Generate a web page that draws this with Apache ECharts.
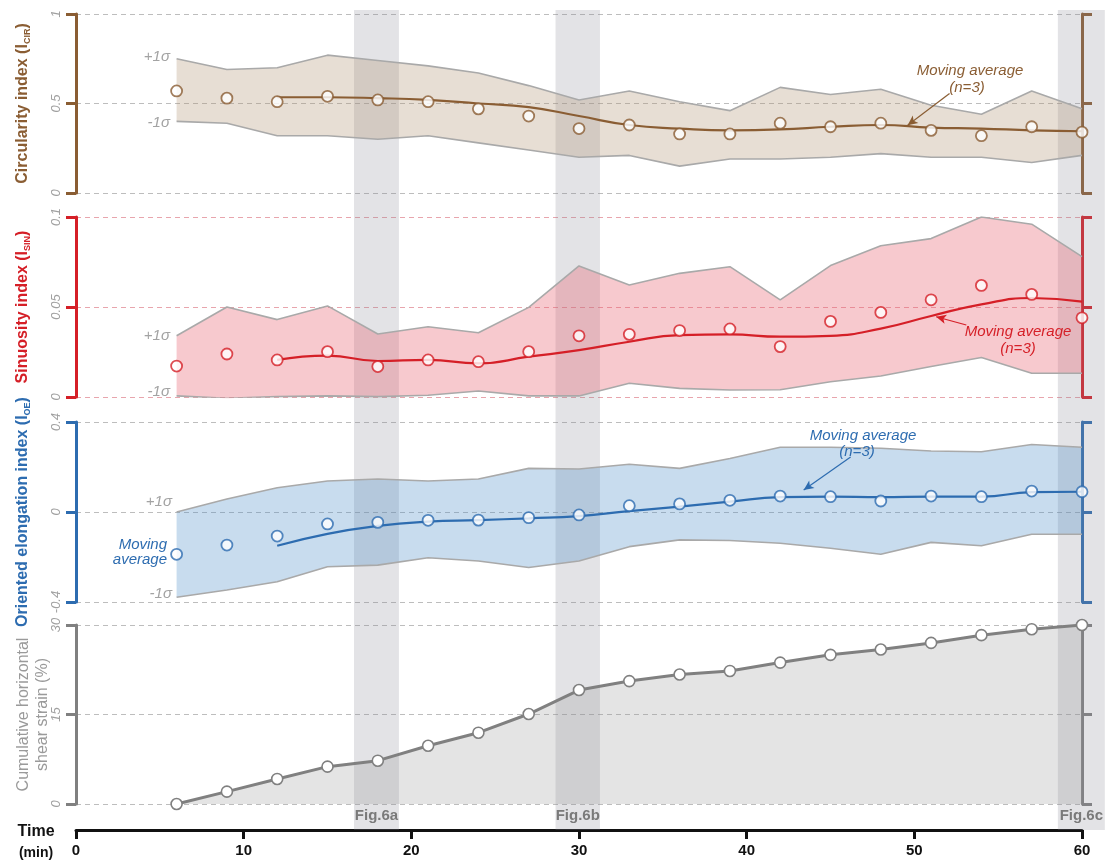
<!DOCTYPE html>
<html>
<head>
<meta charset="utf-8">
<script src="https://cdn.jsdelivr.net/npm/echarts@6/dist/echarts.min.js"></script>
<style>
  html, body { margin: 0; padding: 0; background: #fff; }
  #main { width: 1109px; height: 861px; }
</style>
</head>
<body>
<div id="main"></div>
<script>
// sampling times (min)
var times = [6, 9, 12, 15, 18, 21, 24, 27, 30, 33, 36, 39, 42, 45, 48, 51, 54, 57, 60];
var maTimes = [12, 15, 18, 21, 24, 27, 30, 33, 36, 39, 42, 45, 48, 51, 54, 57, 60];

// circularity index
var cirMean  = [0.57, 0.53, 0.51, 0.54, 0.52, 0.51, 0.47, 0.43, 0.36, 0.38, 0.33, 0.33, 0.39, 0.37, 0.39, 0.35, 0.32, 0.37, 0.34];
var cirUpper = [0.75, 0.69, 0.70, 0.77, 0.74, 0.71, 0.67, 0.60, 0.52, 0.57, 0.51, 0.46, 0.59, 0.55, 0.58, 0.49, 0.44, 0.57, 0.47];
var cirLower = [0.40, 0.39, 0.32, 0.32, 0.30, 0.32, 0.28, 0.24, 0.20, 0.21, 0.15, 0.19, 0.19, 0.20, 0.22, 0.20, 0.20, 0.17, 0.21];
var cirMA    = [0.535, 0.535, 0.53, 0.52, 0.50, 0.48, 0.43, 0.38, 0.36, 0.35, 0.355, 0.37, 0.38, 0.365, 0.36, 0.35, 0.345];

// sinuosity index
var sinMean  = [0.0172, 0.0239, 0.0206, 0.0252, 0.0169, 0.0206, 0.0196, 0.0252, 0.034, 0.0348, 0.0369, 0.0378, 0.028, 0.042, 0.047, 0.054, 0.062, 0.057, 0.044];
var sinUpper = [0.034, 0.050, 0.043, 0.0506, 0.035, 0.039, 0.0357, 0.0498, 0.0728, 0.0622, 0.0687, 0.0724, 0.054, 0.073, 0.084, 0.088, 0.100, 0.096, 0.078];
var sinLower = [0.0006, -0.0007, 0.0002, 0.0006, 0.0002, 0.001, 0.0033, 0.0006, 0.0006, 0.0076, 0.0048, 0.0039, 0.004, 0.0085, 0.0117, 0.0169, 0.0219, 0.0132, 0.0132];
var sinMA    = [0.0206, 0.023, 0.020, 0.0206, 0.0187, 0.0224, 0.026, 0.0307, 0.0344, 0.0348, 0.0335, 0.034, 0.038, 0.045, 0.0515, 0.055, 0.053];

// oriented elongation index
var oeMean  = [-0.188, -0.147, -0.107, -0.053, -0.046, -0.037, -0.036, -0.025, -0.013, 0.028, 0.036, 0.052, 0.071, 0.068, 0.049, 0.071, 0.068, 0.093, 0.09];
var oeUpper = [0.0, 0.058, 0.108, 0.138, 0.147, 0.138, 0.147, 0.194, 0.191, 0.212, 0.194, 0.238, 0.288, 0.288, 0.283, 0.271, 0.268, 0.30, 0.288];
var oeLower = [-0.379, -0.347, -0.31, -0.243, -0.236, -0.203, -0.218, -0.247, -0.218, -0.154, -0.124, -0.127, -0.139, -0.161, -0.188, -0.135, -0.15, -0.099, -0.099];
var oeMA    = [-0.15, -0.097, -0.062, -0.043, -0.036, -0.028, -0.018, 0.004, 0.024, 0.046, 0.066, 0.068, 0.066, 0.068, 0.068, 0.088, 0.09];

// cumulative horizontal shear strain (%)
var strain = [0, 2.07, 4.2, 6.26, 7.26, 9.77, 11.95, 15.08, 19.1, 20.6, 21.7, 22.3, 23.7, 25.0, 25.9, 27.0, 28.3, 29.3, 30.0];

// snapshot windows
var figBands = [
  { name: 'Fig.6a', from: 16.58, to: 19.26 },
  { name: 'Fig.6b', from: 28.6, to: 31.25 },
  { name: 'Fig.6c', from: 58.56, to: 61.36 }
];

var BROWN = '#8a5d33', RED = '#d51f27', BLUE = '#2d6cb0', GREY = '#808080';
var FONT = '"Liberation Sans Narrow", "Liberation Sans", Arial, sans-serif';

function zip(xs, ys) {
  return xs.map(function (x, i) { return [x, ys[i]]; });
}

var dom = document.getElementById('main');
var myChart = echarts.init(dom, null, { renderer: 'canvas' });

function grid(top, height, right) {
  return { left: 76, right: right, top: top, height: height, containLabel: false, outerBoundsMode: 'none' };
}
var grids = [
  grid(14, 179, 27),
  grid(217, 180, 27),
  grid(422, 180, 27),
  grid(625, 179, 27),
  grid(10, 820, 27),   // time axis
  grid(10, 820, 4)     // grey windows
];

var xAxes = [0, 1, 2, 3].map(function (g) {
  return { type: 'value', gridIndex: g, min: 0, max: 60, show: false };
});
xAxes.push({
  type: 'value', gridIndex: 4, min: 0, max: 60, interval: 10,
  axisLine: { onZero: false, lineStyle: { color: '#111', width: 3 } },
  axisTick: { length: 9, lineStyle: { color: '#111', width: 3 } },
  axisLabel: { color: '#111', fontWeight: 'bold', fontSize: 15, fontFamily: FONT, margin: 13 },
  splitLine: { show: false }
});
xAxes.push({ type: 'value', gridIndex: 5, min: 0, max: 61.37, show: false });

function leftAxis(g, min, max, interval, color, name, nameGap, nameStyle, gridColor) {
  return {
    type: 'value', gridIndex: g, position: 'left', min: min, max: max, interval: interval,
    axisLine: { show: true, onZero: false, lineStyle: { color: color, width: 3 } },
    axisTick: { show: true, length: 10, lineStyle: { color: color, width: 3 } },
    axisLabel: { rotate: 90, color: '#a0a0a0', fontStyle: 'italic', fontSize: 13, fontFamily: FONT, margin: 13 },
    splitLine: { show: true, lineStyle: { color: gridColor || '#bdbdbd', type: [5, 4], width: 1 } },
    name: name, nameLocation: 'middle', nameRotate: 90, nameGap: nameGap,
    nameMoveOverlap: false,
    nameTextStyle: nameStyle
  };
}
function rightAxis(g, min, max, interval, color) {
  return {
    type: 'value', gridIndex: g, position: 'right', min: min, max: max, interval: interval,
    axisLine: { show: true, onZero: false, lineStyle: { color: color, width: 3 } },
    axisTick: { show: true, length: 10, lineStyle: { color: color, width: 3 } },
    axisLabel: { show: false },
    splitLine: { show: false }
  };
}
function titleStyle(color) {
  return {
    color: color, fontWeight: 'bold', fontSize: 16, fontFamily: FONT,
    rich: {
      sub: { color: color, fontWeight: 'bold', fontSize: 9, fontFamily: FONT, padding: [9, 0, 0, 0] }
    }
  };
}

var yAxes = [
  leftAxis(0, 0, 1, 0.5, BROWN, 'Circularity index (I{sub|CIR})', 44, titleStyle(BROWN)),
  rightAxis(0, 0, 1, 0.5, BROWN),
  leftAxis(1, 0, 0.1, 0.05, RED, 'Sinuosity index (I{sub|SIN})', 44, titleStyle(RED), '#e8a5ad'),
  rightAxis(1, 0, 0.1, 0.05, RED),
  leftAxis(2, -0.4, 0.4, 0.4, BLUE, 'Oriented elongation index (I{sub|OE})', 44, titleStyle(BLUE)),
  rightAxis(2, -0.4, 0.4, 0.4, BLUE),
  leftAxis(3, 0, 30, 15, GREY, 'Cumulative horizontal\nshear strain (%)', 24,
    { color: '#9a9a9a', fontSize: 16, fontFamily: FONT, lineHeight: 19 }),
  rightAxis(3, 0, 30, 15, GREY),
  { type: 'value', gridIndex: 4, min: 0, max: 1, show: false },
  { type: 'value', gridIndex: 5, min: 0, max: 1, show: false }
];

// ±1σ envelope: filled polygon (custom series) plus two grey boundary lines
function bandSeries(idx, upper, lower, fill) {
  var yi = idx * 2;
  var rows = times.map(function (t, i) { return [t, lower[i], upper[i]]; });
  return [
    {
      type: 'custom', xAxisIndex: idx, yAxisIndex: yi, data: rows, z: 1, silent: true,
      encode: { x: 0, y: [1, 2] },
      renderItem: function (params, api) {
        if (params.dataIndex !== 0) return;
        var pts = [];
        rows.forEach(function (r) { pts.push(api.coord([r[0], r[2]])); });
        for (var i = rows.length - 1; i >= 0; i--) pts.push(api.coord([rows[i][0], rows[i][1]]));
        return { type: 'polygon', shape: { points: pts }, style: { fill: fill } };
      }
    },
    {
      type: 'line', xAxisIndex: idx, yAxisIndex: yi, data: zip(times, lower),
      symbol: 'none', z: 2, silent: true,
      lineStyle: { color: '#a9a9a9', width: 1.6 }
    },
    {
      type: 'line', xAxisIndex: idx, yAxisIndex: yi, data: zip(times, upper),
      symbol: 'none', z: 2, silent: true,
      lineStyle: { color: '#a9a9a9', width: 1.6 }
    }
  ];
}
function maSeries(idx, values, color, arrow) {
  return {
    type: 'line', xAxisIndex: idx, yAxisIndex: idx * 2, data: zip(maTimes, values),
    smooth: 0.5, symbol: 'none', z: 3,
    lineStyle: { color: color, width: 2.2 },
    markLine: {
      silent: true, symbol: ['none', 'arrow'], symbolSize: [7, 10], z: 5,
      lineStyle: { color: color, width: 1.2, type: 'solid' },
      label: { show: false },
      data: [[{ coord: arrow[0] }, { coord: arrow[1] }]]
    }
  };
}
function pointSeries(idx, values, color) {
  return {
    type: 'scatter', xAxisIndex: idx, yAxisIndex: idx * 2, data: zip(times, values),
    symbol: 'circle', symbolSize: 11, z: 4,
    itemStyle: { color: '#fff', borderColor: color, borderWidth: 1.8 }
  };
}

var series = [];
series = series.concat(bandSeries(0, cirUpper, cirLower, 'rgba(175,145,112,0.30)'));
series.push(maSeries(0, cirMA, BROWN, [[52.1, 0.556], [49.6, 0.378]]));
series.push(pointSeries(0, cirMean, BROWN));

series = series.concat(bandSeries(1, sinUpper, sinLower, 'rgba(232,96,110,0.34)'));
series.push(maSeries(1, sinMA, RED, [[53.1, 0.040], [51.3, 0.0446]]));
series.push(pointSeries(1, sinMean, RED));

series = series.concat(bandSeries(2, oeUpper, oeLower, 'rgba(72,138,198,0.30)'));
series.push(maSeries(2, oeMA, BLUE, [[46.2, 0.244], [43.4, 0.098]]));
series.push(pointSeries(2, oeMean, BLUE));

series.push({
  type: 'line', xAxisIndex: 3, yAxisIndex: 6, data: zip(times, strain),
  symbol: 'circle', symbolSize: 11, showSymbol: true, z: 4,
  lineStyle: { color: GREY, width: 3 },
  itemStyle: { color: '#fff', borderColor: GREY, borderWidth: 1.6 },
  areaStyle: { color: 'rgba(150,150,150,0.26)', opacity: 1 }
});

series.push({
  type: 'line', xAxisIndex: 5, yAxisIndex: 9, data: [[0, 0]], symbol: 'none',
  lineStyle: { opacity: 0 }, silent: true,
  markArea: {
    silent: true, z: 1,
    itemStyle: { color: 'rgba(140,140,150,0.24)' },
    label: {
      show: true, position: 'insideBottom', distance: 7,
      color: '#7a7a7a', fontWeight: 'bold', fontSize: 15, fontFamily: FONT
    },
    data: figBands.map(function (b) {
      return [{ name: b.name, xAxis: b.from }, { xAxis: b.to }];
    })
  }
});

function note(x, y, text, color, align, size) {
  return {
    type: 'text', x: x, y: y, silent: true, z: 10,
    style: {
      text: text, fill: color, font: 'italic ' + (size || 15) + 'px ' + FONT,
      textAlign: align || 'center', textVerticalAlign: 'middle'
    }
  };
}

var SIG = '#a3a3a3';
var graphics = [
  note(970, 71, 'Moving average', BROWN),
  note(967, 88, '(n=3)', BROWN),
  note(1018, 332, 'Moving average', RED),
  note(1018, 349, '(n=3)', RED),
  note(863, 436, 'Moving average', BLUE),
  note(857, 452, '(n=3)', BLUE),
  note(167, 545, 'Moving', BLUE, 'right'),
  note(167, 560, 'average', BLUE, 'right'),
  note(170, 57, '+1\u03c3', SIG, 'right'),
  note(170, 123, '-1\u03c3', SIG, 'right'),
  note(170, 336, '+1\u03c3', SIG, 'right'),
  note(170, 392, '-1\u03c3', SIG, 'right'),
  note(172, 502, '+1\u03c3', SIG, 'right'),
  note(172, 594, '-1\u03c3', SIG, 'right'),
  {
    type: 'text', x: 36, y: 832, silent: true,
    style: { text: 'Time', fill: '#111', font: 'bold 16px ' + FONT, textAlign: 'center', textVerticalAlign: 'middle' }
  },
  {
    type: 'text', x: 36, y: 853, silent: true,
    style: { text: '(min)', fill: '#111', font: 'bold 14px ' + FONT, textAlign: 'center', textVerticalAlign: 'middle' }
  }
];

var option = {
  animation: false,
  backgroundColor: '#fff',
  textStyle: { fontFamily: FONT },
  grid: grids,
  xAxis: xAxes,
  yAxis: yAxes,
  series: series,
  graphic: graphics
};

if (option && typeof option === 'object') {
  myChart.setOption(option);
}

window.addEventListener('resize', myChart.resize);
</script>
</body>
</html>
